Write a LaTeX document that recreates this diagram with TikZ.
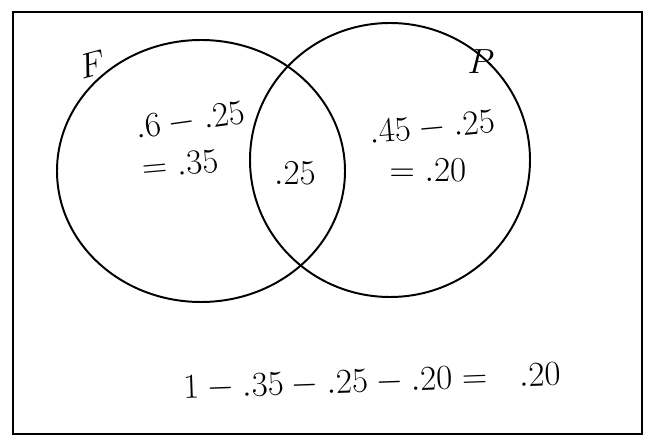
\documentclass[tikz,border=0pt]{standalone}
\usepackage{amsmath}
\usepackage{amssymb}
\usepackage{tikz}
\usepackage{xcolor}
\usetikzlibrary{calc,positioning}

\begin{document}
\begin{tikzpicture}[x=0.025cm,y=-0.025cm,
  hand/.style={font=\fontsize{26}{30}\selectfont},
  pen/.style={line width=1.4pt}]
\useasboundingbox (0,0) rectangle (647,446);
\coordinate (CF) at (201,171);
\coordinate (CP) at (390,160);
\draw[pen] (13,12) rectangle (642,434);
\draw[pen] (CF) ellipse [x radius=144, y radius=131];
\draw[pen] (CP) ellipse [x radius=140, y radius=137];
\node[hand,rotate=15] (F) at (92,64) {$F$};
\node[hand] (P) at (481,62) {$P$};
\node[hand,rotate=8] (fonly) at (190,121) {$.6-.25$};
\node[hand,rotate=5] (fres) at (180,164) {$=.35$};
\node[hand] (both) at (295,173) {$.25$};
\node[hand,rotate=5] (ponly) at (432,128) {$.45-.25$};
\node[hand] (pres) at (428,170) {$=.20$};
\node[hand,rotate=2] (rest) at (372,382) {$1-.35-.25-.20=\ \ .20$};
\end{tikzpicture}
\end{document}
